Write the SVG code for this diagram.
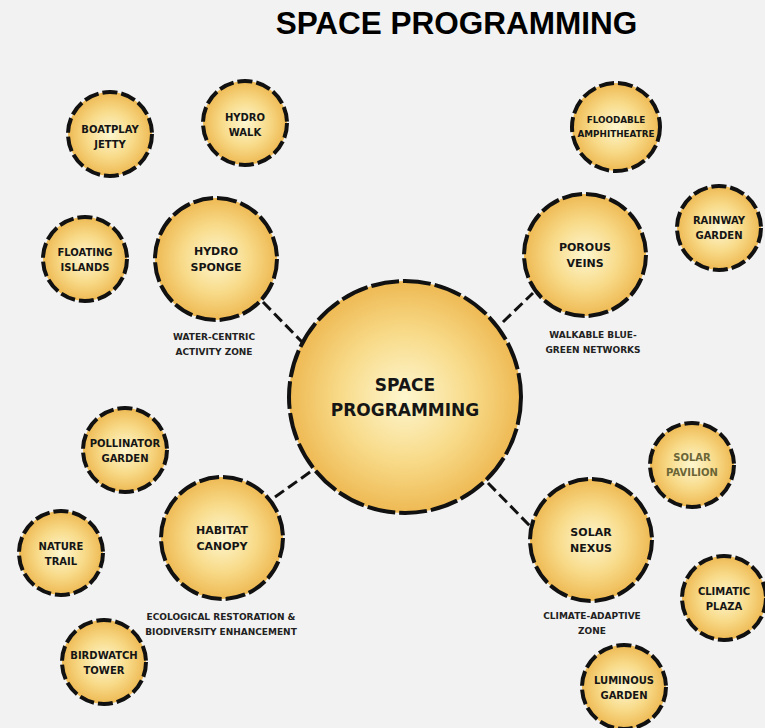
<svg xmlns="http://www.w3.org/2000/svg" width="765" height="728" viewBox="0 0 765 728">
<defs>
<radialGradient id="g" cx="50%" cy="50%" r="50%">
<stop offset="0" stop-color="#fdf6cf"/>
<stop offset="0.55" stop-color="#f8db8a"/>
<stop offset="1" stop-color="#eeb953"/>
</radialGradient>
<style>
.c{fill:url(#g);stroke:#111;stroke-width:4}
.big{stroke-dasharray:28 4}
.mid{stroke-dasharray:20 4}
.sm{stroke-dasharray:15 4}
.t{font-family:"DejaVu Sans",Verdana,sans-serif;font-weight:bold;fill:#151515;text-anchor:middle}
.tm{font-size:11px}
.ts{font-size:10px}
.lab{font-family:"DejaVu Sans",Verdana,sans-serif;font-weight:bold;font-size:9px;fill:#222;text-anchor:middle}
.con{stroke:#111;stroke-width:3;stroke-dasharray:11 5;fill:none}
</style>
</defs>
<rect width="765" height="728" fill="#f2f2f2"/>
<text x="456.5" y="34" font-family="Liberation Sans,Arial,sans-serif" font-weight="bold" font-size="31.5" fill="#000" text-anchor="middle">SPACE PROGRAMMING</text>
<g id="connectors">
<line class="con" x1="263" y1="302" x2="302" y2="342"/>
<line class="con" x1="503" y1="322" x2="533" y2="293"/>
<line class="con" x1="275" y1="497" x2="313" y2="470"/>
<line class="con" x1="488" y1="483" x2="531" y2="527"/>
</g>
<g id="center"><circle class="c big" cx="405" cy="397" r="116"/>
<text class="t" font-size="17" x="405" y="391">SPACE</text>
<text class="t" font-size="17" x="405" y="416">PROGRAMMING</text></g>
<g id="hydro-sponge"><circle class="c mid" cx="216" cy="259" r="61"/>
<text class="t tm" x="216" y="255">HYDRO</text><text class="t tm" x="216" y="271">SPONGE</text></g>
<g id="porous-veins"><circle class="c mid" cx="585" cy="255" r="61"/>
<text class="t tm" x="585" y="251">POROUS</text><text class="t tm" x="585" y="267">VEINS</text></g>
<g id="habitat-canopy"><circle class="c mid" cx="222" cy="538" r="61"/>
<text class="t tm" x="222" y="534">HABITAT</text><text class="t tm" x="222" y="550">CANOPY</text></g>
<g id="solar-nexus"><circle class="c mid" cx="591" cy="540" r="61"/>
<text class="t tm" x="591" y="536">SOLAR</text><text class="t tm" x="591" y="552">NEXUS</text></g>
<g id="boatplay-jetty"><circle class="c sm" cx="110" cy="134" r="42"/>
<text class="t ts" x="110" y="133">BOATPLAY</text><text class="t ts" x="110" y="148">JETTY</text></g>
<g id="hydro-walk"><circle class="c sm" cx="245" cy="123" r="42"/>
<text class="t ts" x="245" y="121">HYDRO</text><text class="t ts" x="245" y="136">WALK</text></g>
<g id="floating-islands"><circle class="c sm" cx="85" cy="259" r="42"/>
<text class="t ts" x="85" y="256">FLOATING</text><text class="t ts" x="85" y="271">ISLANDS</text></g>
<g id="floodable-amphitheatre"><circle class="c sm" cx="616" cy="127" r="44"/>
<text class="t" font-size="8.8" x="616" y="123">FLOODABLE</text><text class="t" font-size="8.8" x="616" y="137">AMPHITHEATRE</text></g>
<g id="rainway-garden"><circle class="c sm" cx="719" cy="228" r="42"/>
<text class="t ts" x="719" y="224">RAINWAY</text><text class="t ts" x="719" y="239">GARDEN</text></g>
<g id="pollinator-garden"><circle class="c sm" cx="125" cy="450" r="42"/>
<text class="t ts" x="125" y="447">POLLINATOR</text><text class="t ts" x="125" y="462">GARDEN</text></g>
<g id="nature-trail"><circle class="c sm" cx="61" cy="553" r="42"/>
<text class="t ts" x="61" y="550">NATURE</text><text class="t ts" x="61" y="565">TRAIL</text></g>
<g id="birdwatch-tower"><circle class="c sm" cx="104" cy="662" r="42"/>
<text class="t ts" x="104" y="659">BIRDWATCH</text><text class="t ts" x="104" y="674">TOWER</text></g>
<g id="solar-pavilion"><circle class="c sm" cx="692" cy="465" r="42"/>
<text class="t ts" x="692" y="461" style="fill:#6b6536">SOLAR</text><text class="t ts" x="692" y="476" style="fill:#6b6536">PAVILION</text></g>
<g id="climatic-plaza"><circle class="c sm" cx="724" cy="598" r="42"/>
<text class="t ts" x="724" y="595">CLIMATIC</text><text class="t ts" x="724" y="610">PLAZA</text></g>
<g id="luminous-garden"><circle class="c sm" cx="624" cy="687" r="42"/>
<text class="t ts" x="624" y="684">LUMINOUS</text><text class="t ts" x="624" y="699">GARDEN</text></g>
<g id="labels">
<text class="lab" x="214" y="340">WATER-CENTRIC</text><text class="lab" x="214" y="355">ACTIVITY ZONE</text>
<text class="lab" x="593" y="338">WALKABLE BLUE-</text><text class="lab" x="593" y="353">GREEN NETWORKS</text>
<text class="lab" x="221" y="620">ECOLOGICAL RESTORATION &amp;</text><text class="lab" x="221" y="635">BIODIVERSITY ENHANCEMENT</text>
<text class="lab" x="592" y="619">CLIMATE-ADAPTIVE</text><text class="lab" x="592" y="634">ZONE</text>
</g>
</svg>
